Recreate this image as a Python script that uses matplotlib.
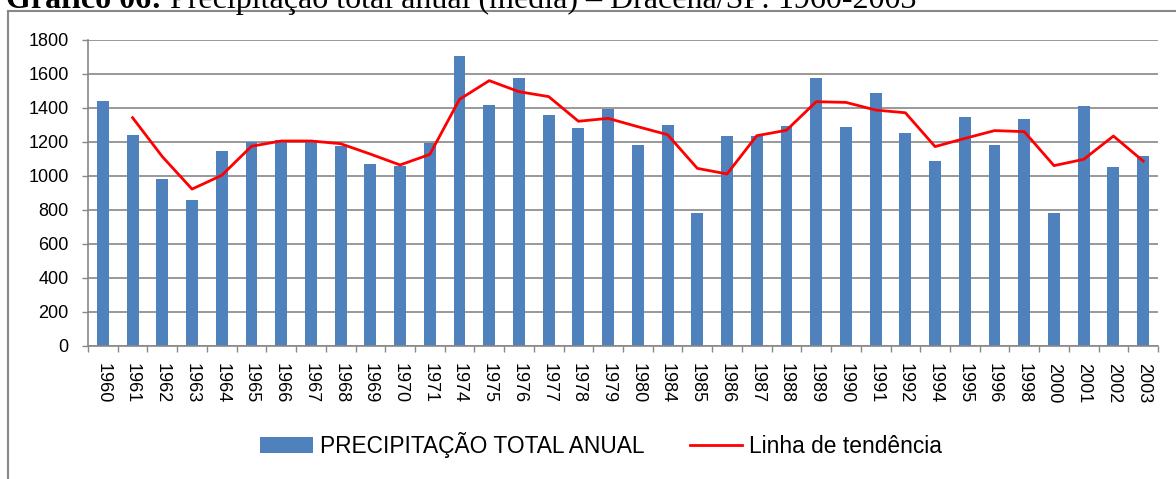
import matplotlib
matplotlib.use("Agg")
import matplotlib.pyplot as plt
from matplotlib.lines import Line2D
from matplotlib.patches import Patch
import numpy as np

# ---------------- data ----------------
years = ["1960", "1961", "1962", "1963", "1964", "1965", "1966", "1967", "1968",
         "1969", "1970", "1971", "1974", "1975", "1976", "1977", "1978", "1979",
         "1980", "1984", "1985", "1986", "1987", "1988", "1989", "1990", "1991",
         "1992", "1994", "1995", "1996", "1998", "2000", "2001", "2002", "2003"]
precip = [1441, 1241, 982, 859, 1147, 1200, 1210, 1205, 1178,
          1071, 1059, 1192, 1708, 1416, 1574, 1357, 1282, 1396,
          1180, 1302, 784, 1235, 1235, 1292, 1574, 1286, 1488,
          1255, 1086, 1345, 1180, 1333, 782, 1412, 1053, 1120]
# trend line (starts at the second category)
trend = [1343, 1114, 923, 1004, 1175, 1206, 1206, 1190,
         1129, 1065, 1127, 1451, 1561, 1496, 1467, 1322, 1339,
         1290, 1243, 1045, 1012, 1237, 1269, 1437, 1433, 1388,
         1372, 1173, 1221, 1267, 1261, 1061, 1098, 1235, 1088]
yticks = [0, 200, 400, 600, 800, 1000, 1200, 1400, 1600, 1800]
bar_label = "PRECIPITAÇÃO TOTAL ANUAL"
line_label = "Linha de tendência"

plt.rcParams['font.family'] = ['Liberation Sans', 'DejaVu Sans']

W, H = 1176, 479
fig = plt.figure(figsize=(W / 100, H / 100), dpi=100)
fig.patch.set_facecolor('white')

ax = fig.add_axes([88 / W, (H - 346) / H, 1070 / W, 306 / H])
x = np.arange(len(years))
ax.bar(x, precip, width=0.4, color='#4F81BD', zorder=2)
ax.plot(x[1:], trend, color='#FF0000', lw=2.0, zorder=3)

ax.set_xlim(-0.5, len(years) - 0.5)
ax.set_ylim(0, 1800)
ax.set_yticks(yticks)
ax.set_yticklabels([str(v) for v in yticks], fontsize=13)
ax.yaxis.grid(True, color='#888888', lw=1.2, zorder=0)
ax.set_axisbelow(True)

ax.set_xticks(x)
ax.set_xticklabels(years, rotation=270, fontsize=13)
ax.set_xticks(np.arange(-0.5, len(years), 1), minor=True)
ax.tick_params(axis='x', which='major', length=0, pad=12)
ax.tick_params(axis='x', which='minor', length=4.5, width=1.0, color='#888888')
ax.tick_params(axis='y', length=4.5, width=1.0, color='#888888', pad=9.5)

for s in ['top', 'right']:
    ax.spines[s].set_visible(False)
for s in ['left', 'bottom']:
    ax.spines[s].set_color('#888888')
    ax.spines[s].set_linewidth(1.2)

# legend
handles = [Patch(facecolor='#4F81BD', edgecolor='none'),
           Line2D([0], [0], color='#FF0000', lw=2.0)]
fig.legend(handles, [bar_label, line_label], ncol=2, loc='center',
           bbox_to_anchor=(601 / W, 1 - 445 / H), frameon=False, fontsize=16.4,
           handlelength=2.3, handletextpad=0.3, columnspacing=2.0)

# outer border of the chart frame
ytop = 1 - 11 / H
xl = 8 / W
fig.add_artist(Line2D([xl, 1], [ytop, ytop], transform=fig.transFigure,
                      color='#888888', lw=1.5))
fig.add_artist(Line2D([xl, xl], [0, ytop], transform=fig.transFigure,
                      color='#888888', lw=1.5))

# title (partially cut at top, as in the source image)
renderer = fig.canvas.get_renderer()
tb = fig.text(6 / W, 1 - 8 / H, "Gráfico 06:", fontsize=23, fontweight='bold',
              family='Liberation Serif', ha='left', va='baseline')
bb = tb.get_window_extent(renderer=renderer)
fig.text(bb.x1 / W, 1 - 8 / H,
         " Precipitação total anual (média) – Dracena/SP: 1960-2003",
         fontsize=23, family='Liberation Serif', ha='left', va='baseline')

fig.savefig('out.png', dpi=100, facecolor='white')
